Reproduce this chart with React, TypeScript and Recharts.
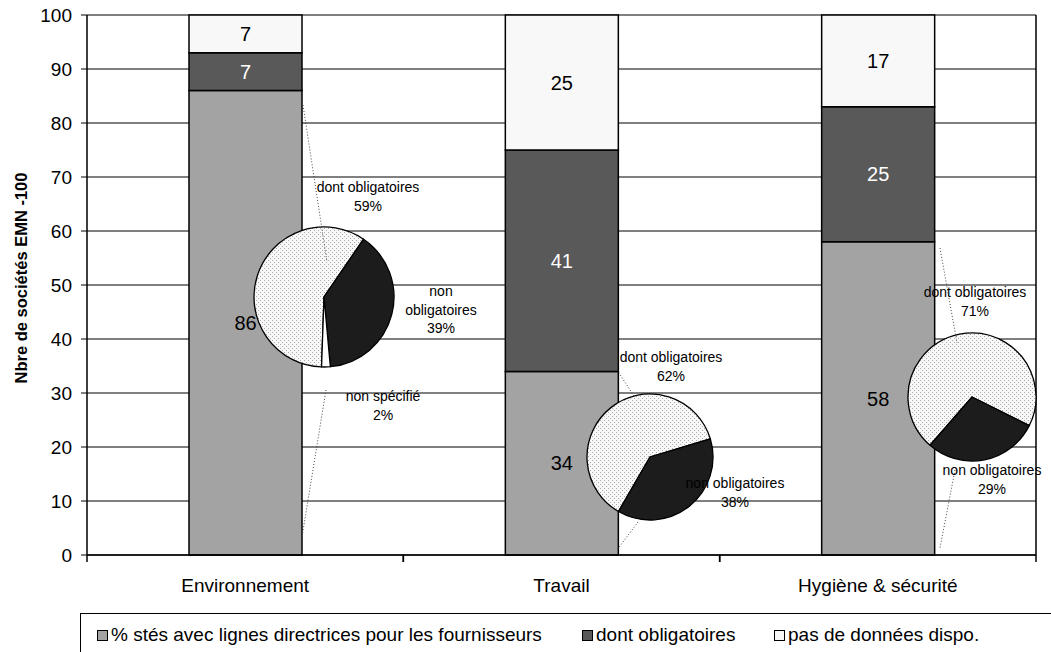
import { BarChart, Bar, XAxis, YAxis, CartesianGrid, LabelList, PieChart, Pie, Cell } from "recharts";

const categories = ["Environnement", "Travail", "Hygiène & sécurité"];
const avecLignes = [86, 34, 58];
const dontOblig = [7, 41, 25];
const pasDonnees = [7, 25, 17];
const yTicks = [0, 10, 20, 30, 40, 50, 60, 70, 80, 90, 100];

const pieEnv = [
  { name: "dont obligatoires", value: 59 },
  { name: "non obligatoires", value: 39 },
  { name: "non spécifié", value: 2 },
];
const pieTravail = [
  { name: "dont obligatoires", value: 62 },
  { name: "non obligatoires", value: 38 },
];
const pieHygiene = [
  { name: "dont obligatoires", value: 71 },
  { name: "non obligatoires", value: 29 },
];

const legendLabels = [
  "% stés avec lignes directrices pour les fournisseurs",
  "dont obligatoires",
  "pas de données dispo.",
];

const data = categories.map((c, i) => ({
  name: c,
  g: avecLignes[i],
  d: dontOblig[i],
  w: pasDonnees[i],
}));

const W = 1051;
const H = 652;
const FONT = "'Liberation Sans', Arial, sans-serif";
const GRAY = "#A3A3A3";
const DARK = "#595959";
const LIGHT = "#F8F8F8";
const sliceFills = ["url(#dots)", "#1C1C1C", "#FFFFFF"];

const margin = { top: 15, right: 14, left: 0, bottom: 57 };
const yAxisW = 87;
const halfBand = (W - margin.left - margin.right - yAxisW - 1) / categories.length / 2;

const XTick = (props: any) => {
  const { x, y, payload } = props;
  return (
    <g>
      <line x1={x - halfBand} x2={x - halfBand} y1={y} y2={y + 7} stroke="#000" strokeWidth={1.5} />
      <line x1={x + halfBand} x2={x + halfBand} y1={y} y2={y + 7} stroke="#000" strokeWidth={1.5} />
      <text x={x} y={y + 30} textAnchor="middle" dominantBaseline="central" fontSize={19} fontFamily={FONT} fill="#000">
        {payload.value}
      </text>
    </g>
  );
};

const YLabel = (props: any) => {
  const vb = props.viewBox;
  const cx = vb.x + 21;
  const cy = vb.y + vb.height / 2 - 7;
  return (
    <text
      x={cx}
      y={cy}
      transform={`rotate(-90 ${cx} ${cy})`}
      textAnchor="middle"
      dominantBaseline="central"
      fontSize={16.5}
      fontWeight="bold"
      fontFamily={FONT}
      fill="#000"
    >
      Nbre de  sociétés EMN -100
    </text>
  );
};

const pies = [
  { key: "env", data: pieEnv, cx: 324, cy: 297, r: 70, start: -92 },
  { key: "trav", data: pieTravail, cx: 650, cy: 457, r: 63, start: -120 },
  { key: "hyg", data: pieHygiene, cx: 972, cy: 397, r: 64, start: -131 },
];

const pieLabels = [
  { lines: ["dont obligatoires", "59%"], x: 368, y: 187 },
  { lines: ["non", "obligatoires", "39%"], x: 441, y: 291 },
  { lines: ["non spécifié", "2%"], x: 383, y: 396 },
  { lines: ["dont obligatoires", "62%"], x: 671, y: 357 },
  { lines: ["non obligatoires", "38%"], x: 735, y: 483 },
  { lines: ["dont obligatoires", "71%"], x: 975, y: 292 },
  { lines: ["non obligatoires", "29%"], x: 992, y: 470 },
];

const leaders = [
  [303, 105, 327, 262],
  [326, 390, 302, 537],
  [617, 370, 634, 396],
  [638, 522, 617, 550],
  [940, 248, 957, 343],
  [955, 470, 940, 548],
];

export default function App() {
  return (
    <div style={{ position: "absolute", left: 0, top: 0, width: W, height: H, background: "#fff", fontFamily: FONT, overflow: "hidden" }}>
      <div style={{ position: "absolute", left: 0, top: 0 }}>
        <BarChart width={W} height={H} data={data} margin={margin} barSize={113}>
          <CartesianGrid vertical={false} stroke="#000" strokeWidth={1} />
          <XAxis
            dataKey="name"
            tickLine={false}
            tickSize={0}
            tickMargin={0}
            axisLine={{ stroke: "#000", strokeWidth: 1.5 }}
            tick={<XTick />}
            height={40}
            interval={0}
          />
          <YAxis
            domain={[0, 100]}
            ticks={yTicks}
            width={yAxisW}
            tickSize={6}
            tickMargin={9}
            axisLine={{ stroke: "#000", strokeWidth: 1.5 }}
            tickLine={{ stroke: "#000" }}
            tick={{ fill: "#000", fontSize: 19, fontFamily: FONT }}
            label={<YLabel />}
          />
          <YAxis
            yAxisId="right"
            orientation="right"
            width={1}
            tick={false}
            tickLine={false}
            axisLine={{ stroke: "#000", strokeWidth: 1.5 }}
          />
          <Bar dataKey="g" stackId="a" fill={GRAY} stroke="#000" strokeWidth={1.5} isAnimationActive={false}>
            <LabelList dataKey="g" position="center" fill="#000" fontSize={20} fontFamily={FONT} />
          </Bar>
          <Bar dataKey="d" stackId="a" fill={DARK} stroke="#000" strokeWidth={1.5} isAnimationActive={false}>
            <LabelList dataKey="d" position="center" fill="#fff" fontSize={20} fontFamily={FONT} />
          </Bar>
          <Bar dataKey="w" stackId="a" fill={LIGHT} stroke="#000" strokeWidth={1.5} isAnimationActive={false}>
            <LabelList dataKey="w" position="center" fill="#000" fontSize={20} fontFamily={FONT} />
          </Bar>
        </BarChart>
      </div>

      <div style={{ position: "absolute", left: 0, top: 0, pointerEvents: "none" }}>
        <PieChart width={W} height={H} margin={{ top: 0, right: 0, bottom: 0, left: 0 }}>
          <defs>
            <pattern id="dots" width="4" height="4" patternUnits="userSpaceOnUse">
              <rect width="4" height="4" fill="#F8F8F8" />
              <rect x="0" y="0" width="1" height="1" fill="#A8A8A8" />
              <rect x="2" y="2" width="1" height="1" fill="#A8A8A8" />
            </pattern>
          </defs>
          {pies.map((p) => (
            <Pie
              key={p.key}
              data={p.data}
              dataKey="value"
              cx={p.cx}
              cy={p.cy}
              outerRadius={p.r}
              innerRadius={0}
              startAngle={p.start}
              endAngle={p.start - 360}
              stroke="#000"
              strokeWidth={1.3}
              isAnimationActive={false}
              label={false}
              labelLine={false}
            >
              {p.data.map((d, i) => (
                <Cell key={d.name} fill={sliceFills[i]} />
              ))}
            </Pie>
          ))}
        </PieChart>
      </div>

      <svg width={W} height={H} style={{ position: "absolute", left: 0, top: 0, pointerEvents: "none" }}>
        {leaders.map((l, i) => (
          <line key={i} x1={l[0]} y1={l[1]} x2={l[2]} y2={l[3]} stroke="#444" strokeWidth={1} strokeDasharray="1 2" />
        ))}
        {pieLabels.map((pl, i) =>
          pl.lines.map((ln, j) => (
            <text
              key={`${i}-${j}`}
              x={pl.x}
              y={pl.y + j * 18.5}
              textAnchor="middle"
              dominantBaseline="central"
              fontSize={14}
              fontFamily={FONT}
              fill="#000"
            >
              {ln}
            </text>
          ))
        )}
      </svg>

      <div
        style={{
          position: "absolute",
          left: 80,
          top: 613,
          width: 990,
          height: 60,
          borderTop: "1.5px solid #000",
          borderLeft: "1.5px solid #000",
          boxSizing: "border-box",
        }}
      >
        {legendLabels.map((lab, i) => (
          <div
            key={lab}
            style={{
              position: "absolute",
              left: [16, 501, 693][i],
              top: 10,
              display: "flex",
              alignItems: "center",
              fontSize: 19,
              lineHeight: "22px",
              fontFamily: FONT,
              whiteSpace: "nowrap",
            }}
          >
            <span
              style={{
                display: "inline-block",
                width: 9,
                height: 9,
                background: [GRAY, DARK, LIGHT][i],
                border: "1px solid #000",
                marginRight: 3,
              }}
            />
            {lab}
          </div>
        ))}
      </div>
    </div>
  );
}
